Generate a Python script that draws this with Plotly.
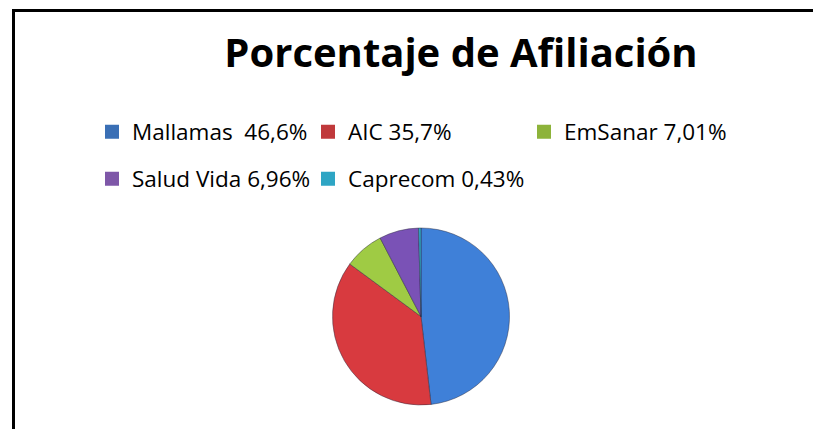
import plotly.graph_objects as go

# ---- data ----
categories = ["Mallamas", "AIC", "EmSanar", "Salud Vida", "Caprecom"]
percent_labels = ["46,6%", "35,7%", "7,01%", "6,96%", "0,43%"]
values = [46.6, 35.7, 7.01, 6.96, 0.43]
pie_colors = ["#3f80d8", "#d83a3f", "#9fcb44", "#7a52b6", "#30a9c8"]
legend_colors = ["#3a6fb5", "#c0393b", "#8db33a", "#7e57a8", "#2ea5c4"]
title_text = "Porcentaje de Afiliación"

W, H = 813, 429
legend_text = [f"{c}\u00a0 {p}" if c == "Mallamas" else f"{c} {p}"
               for c, p in zip(categories, percent_labels)]

fig = go.Figure()

# pie
cx, cy, r = 421, 316.5, 88.5
fig.add_trace(go.Pie(
    labels=categories,
    values=values,
    sort=False,
    direction="clockwise",
    rotation=0,
    textinfo="none",
    hoverinfo="label+percent",
    marker=dict(colors=pie_colors, line=dict(color="rgba(40,40,60,0.45)", width=1)),
    domain=dict(x=[(cx - r) / W, (cx + r) / W], y=[1 - (cy + r) / H, 1 - (cy - r) / H]),
    showlegend=False,
))

# legend entries (two rows)
for i, (lab, col) in enumerate(zip(legend_text, legend_colors)):
    fig.add_trace(go.Scatter(
        x=[None], y=[None], mode="markers",
        marker=dict(symbol="square", size=14, color=col),
        name=lab,
        legend="legend" if i < 3 else "legend2",
        hoverinfo="skip",
    ))

leg_common = dict(
    orientation="h", xanchor="left", yanchor="middle",
    entrywidth=171, entrywidthmode="pixels",
    font=dict(family="Open Sans", size=22.5, color="black"),
    bgcolor="rgba(0,0,0,0)", borderwidth=0,
    itemclick=False, itemdoubleclick=False,
)

fig.update_layout(
    width=W, height=H,
    margin=dict(l=0, r=0, t=0, b=0),
    paper_bgcolor="white", plot_bgcolor="white",
    xaxis=dict(visible=False), yaxis=dict(visible=False),
    title=dict(text=f"<b>{title_text}</b>", x=461 / W, xanchor="center",
               y=1 - 53 / H, yanchor="middle", yref="container",
               font=dict(family="Open Sans", size=40, color="black")),
    legend=dict(**leg_common, x=92 / W, y=1 - 132 / H),
    legend2=dict(**leg_common, x=92 / W, y=1 - 179 / H),
    shapes=[
        dict(type="line", xref="paper", yref="paper",
             x0=13.5 / W, x1=13.5 / W, y0=0, y1=1 - 9 / H,
             line=dict(color="black", width=3)),
        dict(type="line", xref="paper", yref="paper",
             x0=12 / W, x1=1, y0=1 - 10.5 / H, y1=1 - 10.5 / H,
             line=dict(color="black", width=3)),
    ],
)

fig.write_html(
    "out.html",
    config={"displayModeBar": False},
    post_script="document.body.style.margin='0';document.body.style.overflow='hidden';",
)
